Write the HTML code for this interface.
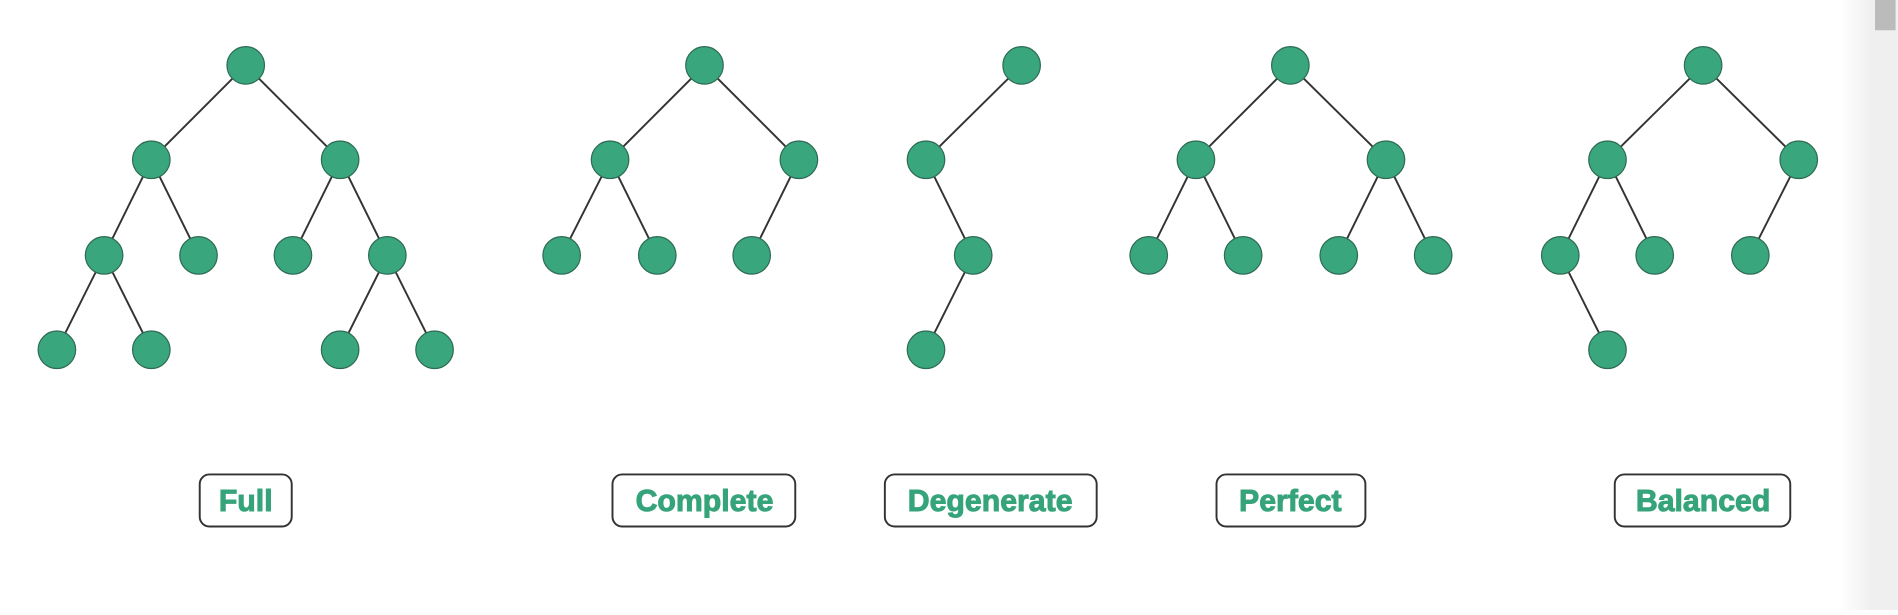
<!DOCTYPE html>
<html><head><style>html,body{margin:0;padding:0;background:#fff;overflow:hidden}</style></head>
<body>
<svg width="1898" height="610" viewBox="0 0 1568 504" preserveAspectRatio="none" xmlns="http://www.w3.org/2000/svg">
<defs><linearGradient id="g" x1="0" x2="1"><stop offset="0" stop-color="#fff"/><stop offset="1" stop-color="#efefef"/></linearGradient></defs>
<rect x="1520" y="0" width="27" height="504" fill="url(#g)"/>
<rect x="1546" y="0" width="22" height="504" fill="#efefef"/>
<rect x="1549" y="0" width="17" height="25" fill="#bbb"/>
<g stroke="#333" stroke-width="1.6">
<line x1="203" y1="54" x2="125" y2="132"/><line x1="203" y1="54" x2="281" y2="132"/>
<line x1="125" y1="132" x2="86" y2="211"/><line x1="125" y1="132" x2="164" y2="211"/>
<line x1="281" y1="132" x2="242" y2="211"/><line x1="281" y1="132" x2="320" y2="211"/>
<line x1="86" y1="211" x2="47" y2="289"/><line x1="86" y1="211" x2="125" y2="289"/>
<line x1="320" y1="211" x2="281" y2="289"/><line x1="320" y1="211" x2="359" y2="289"/>
<line x1="582" y1="54" x2="504" y2="132"/><line x1="582" y1="54" x2="660" y2="132"/>
<line x1="504" y1="132" x2="464" y2="211"/><line x1="504" y1="132" x2="543" y2="211"/>
<line x1="660" y1="132" x2="621" y2="211"/>
<line x1="844" y1="54" x2="765" y2="132"/><line x1="765" y1="132" x2="804" y2="211"/><line x1="804" y1="211" x2="765" y2="289"/>
<line x1="1066" y1="54" x2="988" y2="132"/><line x1="1066" y1="54" x2="1145" y2="132"/>
<line x1="988" y1="132" x2="949" y2="211"/><line x1="988" y1="132" x2="1027" y2="211"/>
<line x1="1145" y1="132" x2="1106" y2="211"/><line x1="1145" y1="132" x2="1184" y2="211"/>
<line x1="1407" y1="54" x2="1328" y2="132"/><line x1="1407" y1="54" x2="1486" y2="132"/>
<line x1="1328" y1="132" x2="1289" y2="211"/><line x1="1328" y1="132" x2="1367" y2="211"/>
<line x1="1486" y1="132" x2="1446" y2="211"/><line x1="1289" y1="211" x2="1328" y2="289"/>
</g>
<g fill="#3aa67e" stroke="#2e6b54" stroke-width="1">
<circle cx="203" cy="54" r="15.5"/><circle cx="125" cy="132" r="15.5"/><circle cx="281" cy="132" r="15.5"/>
<circle cx="86" cy="211" r="15.5"/><circle cx="164" cy="211" r="15.5"/><circle cx="242" cy="211" r="15.5"/><circle cx="320" cy="211" r="15.5"/>
<circle cx="47" cy="289" r="15.5"/><circle cx="125" cy="289" r="15.5"/><circle cx="281" cy="289" r="15.5"/><circle cx="359" cy="289" r="15.5"/>
<circle cx="582" cy="54" r="15.5"/><circle cx="504" cy="132" r="15.5"/><circle cx="660" cy="132" r="15.5"/>
<circle cx="464" cy="211" r="15.5"/><circle cx="543" cy="211" r="15.5"/><circle cx="621" cy="211" r="15.5"/>
<circle cx="844" cy="54" r="15.5"/><circle cx="765" cy="132" r="15.5"/><circle cx="804" cy="211" r="15.5"/><circle cx="765" cy="289" r="15.5"/>
<circle cx="1066" cy="54" r="15.5"/><circle cx="988" cy="132" r="15.5"/><circle cx="1145" cy="132" r="15.5"/>
<circle cx="949" cy="211" r="15.5"/><circle cx="1027" cy="211" r="15.5"/><circle cx="1106" cy="211" r="15.5"/><circle cx="1184" cy="211" r="15.5"/>
<circle cx="1407" cy="54" r="15.5"/><circle cx="1328" cy="132" r="15.5"/><circle cx="1486" cy="132" r="15.5"/>
<circle cx="1289" cy="211" r="15.5"/><circle cx="1367" cy="211" r="15.5"/><circle cx="1446" cy="211" r="15.5"/><circle cx="1328" cy="289" r="15.5"/>
</g>
<g fill="#fff" stroke="#333" stroke-width="1.6">
<rect x="165" y="392" width="76" height="43" rx="8"/>
<rect x="506" y="392" width="151" height="43" rx="8"/>
<rect x="731" y="392" width="175" height="43" rx="8"/>
<rect x="1005" y="392" width="123" height="43" rx="8"/>
<rect x="1334" y="392" width="145" height="43" rx="8"/>
</g>
<g fill="#36a47b" stroke="#36a47b" stroke-width="0.8" font-family="Liberation Sans, sans-serif" font-weight="bold" font-size="25" text-anchor="middle">
<text x="203" y="422">Full</text>
<text x="582" y="422">Complete</text>
<text x="818" y="422">Degenerate</text>
<text x="1066" y="422">Perfect</text>
<text x="1407" y="422">Balanced</text>
</g>
</svg>
</body></html>
